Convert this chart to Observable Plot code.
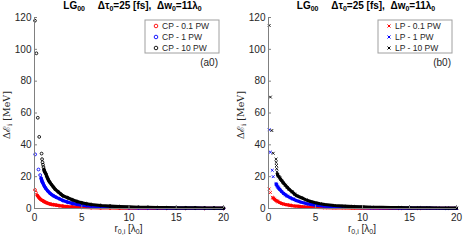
<!DOCTYPE html>
<html><head><meta charset="utf-8">
<script src="https://cdn.jsdelivr.net/npm/d3@7"></script>
<script src="https://cdn.jsdelivr.net/npm/@observablehq/plot@0.6"></script>
<style>
body{margin:0;background:#fff;}
#wrap{display:flex;width:463px;height:240px;overflow:hidden;}
svg{font-family:"Liberation Sans",Arial,sans-serif;}
</style></head><body><div id="wrap"></div>
<script>
const xTicks = [0, 5, 10, 15, 20];
const yTicks = [0, 20, 40, 60, 80, 100, 120];
const seriesColors = ["#ff0000", "#0000ff", "#000000"];
const cpLabels = ["CP - 0.1 PW", "CP - 1 PW", "CP - 10 PW"];
const lpLabels = ["LP - 0.1 PW", "LP - 1 PW", "LP - 10 PW"];
const panelTags = ["(a0)", "(b0)"];

// CP (circularly polarised) — isolated points and dense band, [r0, dE]
const cp01Iso = [[0.05, 11.7], [0.15, 10.0]];
const cp01Band = [[0.3, 8.2], [0.45, 7.0], [0.6, 6.0], [0.75, 5.3], [0.9, 4.8], [1.0, 4.4], [1.2, 3.8], [1.4, 3.3], [1.6, 2.9], [1.8, 2.6], [2.0, 2.4], [2.3, 2.1], [2.6, 1.8], [3.0, 1.5], [3.5, 1.2], [4, 1.0], [4.5, 0.85], [5, 0.7], [6, 0.5], [7, 0.4], [8, 0.3], [9, 0.25], [10, 0.2], [12, 0.14], [14, 0.1], [16, 0.08], [18, 0.06], [20, 0.05]];
const cp1Iso = [[0.07, 34.0], [0.42, 24.5], [0.6, 21.0]];
const cp1Band = [[0.7, 19.0], [0.75, 18.0], [0.8, 17.0], [0.85, 16.5], [0.9, 15.8], [1.0, 14.5], [1.1, 13.5], [1.2, 12.5], [1.4, 11.0], [1.6, 9.8], [1.8, 8.8], [2.0, 8.0], [2.3, 7.0], [2.6, 6.2], [3.0, 5.0], [3.5, 4.0], [4, 3.2], [4.5, 2.6], [5, 2.1], [5.5, 1.8], [6, 1.5], [7, 1.1], [8, 0.85], [9, 0.7], [10, 0.55], [11, 0.45], [12, 0.38], [13, 0.32], [14, 0.28], [15, 0.24], [16, 0.2], [17, 0.18], [18, 0.16], [19, 0.14], [20, 0.12]];
const cp10Iso = [[0.05, 118], [0.2, 97.5], [0.35, 57], [0.5, 45], [0.75, 34.5], [0.8, 31], [0.85, 29], [0.9, 27.5], [0.95, 26]];
const cp10Band = [[1.0, 24.5], [1.05, 23.5], [1.1, 22.8], [1.2, 21.8], [1.3, 20.2], [1.4, 18.8], [1.5, 17.6], [1.6, 16.6], [1.8, 15.0], [2.0, 13.5], [2.2, 12.0], [2.5, 10.5], [2.8, 9.0], [3.0, 8.0], [3.5, 6.8], [4, 5.5], [4.5, 4.4], [5, 3.6], [5.5, 3.0], [6, 2.5], [7, 1.9], [8, 1.5], [9, 1.2], [10, 1.0], [11, 0.8], [12, 0.7], [13, 0.6], [14, 0.5], [15, 0.45], [16, 0.4], [17, 0.35], [18, 0.3], [19, 0.28], [20, 0.25]];

// LP (linearly polarised)
const lp01Iso = [[0.07, 12.3], [0.2, 10.0], [0.4, 7.0]];
const lp01Band = [[0.5, 6.6], [0.65, 5.8], [0.8, 5.1], [0.9, 4.7], [1.0, 4.3], [1.2, 3.7], [1.4, 3.2], [1.6, 2.8], [1.8, 2.5], [2.0, 2.3], [2.3, 2.0], [2.6, 1.7], [3.0, 1.45], [3.5, 1.15], [4, 0.95], [4.5, 0.8], [5, 0.68], [6, 0.5], [7, 0.38], [8, 0.3], [9, 0.24], [10, 0.2], [12, 0.14], [14, 0.1], [16, 0.08], [18, 0.06], [20, 0.05]];
const lp1Iso = [[0.07, 49.5], [0.2, 35.4], [0.4, 24.0], [0.5, 20.0]];
const lp1Band = [[0.8, 15.5], [0.85, 15.0], [0.9, 14.4], [1.0, 13.5], [1.1, 12.7], [1.2, 12.0], [1.4, 10.6], [1.6, 9.5], [1.8, 8.6], [2.0, 7.8], [2.3, 6.8], [2.6, 6.0], [3.0, 4.9], [3.5, 3.9], [4, 3.1], [4.5, 2.6], [5, 2.1], [5.5, 1.8], [6, 1.5], [7, 1.1], [8, 0.85], [9, 0.7], [10, 0.55], [11, 0.45], [12, 0.38], [13, 0.32], [14, 0.28], [15, 0.24], [16, 0.2], [17, 0.18], [18, 0.16], [19, 0.14], [20, 0.12]];
const lp10Iso = [[0.07, 115], [0.2, 70], [0.35, 49], [0.5, 34.7], [0.8, 31], [0.82, 29], [0.85, 27], [0.87, 25], [0.9, 23]];
const lp10Band = [[0.95, 21.5], [1.0, 20.8], [1.1, 20.0], [1.2, 19.2], [1.3, 18.3], [1.4, 17.5], [1.5, 16.7], [1.6, 16.0], [1.8, 14.6], [2.0, 13.3], [2.2, 12.0], [2.5, 10.5], [2.8, 9.0], [3.0, 8.0], [3.5, 6.7], [4, 5.4], [4.5, 4.4], [5, 3.6], [5.5, 3.0], [6, 2.5], [7, 1.9], [8, 1.5], [9, 1.2], [10, 1.0], [11, 0.8], [12, 0.7], [13, 0.6], [14, 0.5], [15, 0.45], [16, 0.4], [17, 0.35], [18, 0.3], [19, 0.28], [20, 0.25]];

const cpSeries = [[cp01Iso, cp01Band], [cp1Iso, cp1Band], [cp10Iso, cp10Band]];
const lpSeries = [[lp01Iso, lp01Band], [lp1Iso, lp1Band], [lp10Iso, lp10Band]];

const axisColor = "#262626";

function panel({series, labels, tag, symbol, width, marginLeft, marginRight}) {
  const marks = [];
  series.forEach(([iso, band], i) => {
    marks.push(Plot.line(band, {x: d => d[0], y: d => d[1], stroke: seriesColors[i], strokeWidth: 3.2}));
    marks.push(Plot.dot(iso.concat(band), {x: d => d[0], y: d => d[1], stroke: seriesColors[i], symbol, r: 1.4, strokeWidth: 0.9}));
  });
  marks.push(Plot.ruleX([0], {stroke: "#808080"}));
  marks.push(Plot.ruleY([0], {stroke: "#808080"}));
  marks.push(Plot.axisY({ticks: yTicks, tickSize: 0, tickPadding: 3, fontSize: 10, color: axisColor, label: null}));
  marks.push(Plot.axisY({ticks: yTicks, tickSize: -3, tickFormat: () => "", stroke: "#808080", label: null}));
  marks.push(Plot.axisX({ticks: xTicks, tickSize: 0, tickPadding: 5, fontSize: 10, color: axisColor, label: null}));
  marks.push(Plot.axisX({ticks: xTicks, tickSize: -3, tickFormat: () => "", stroke: "#808080", label: null}));
  const svg = Plot.plot({
    width, height: 240, marginLeft, marginRight, marginTop: 17, marginBottom: 32,
    x: {domain: [0, 20]}, y: {domain: [0, 120]},
    marks
  });
  const s = d3.select(svg);
  const x0 = marginLeft, x1 = width - marginRight;
  // title
  const t = s.append("text").attr("x", (x0 + x1) / 2 + 4).attr("y", 9).attr("text-anchor", "middle")
    .attr("font-weight", "bold").attr("font-size", 10).attr("fill", "#000");
  const sub = (txt) => { t.append("tspan").attr("baseline-shift", "-30%").attr("font-size", 7).text(txt); };
  t.append("tspan").text("LG"); sub("00");
  t.append("tspan").text("\u2003\u00a0\u0394\u03c4"); sub("0");
  t.append("tspan").text("=25 [fs],\u00a0\u00a0\u0394w"); sub("0");
  t.append("tspan").text("=11\u03bb"); sub("0");
  // y label
  const yl = s.append("text").attr("transform", `translate(${x0 - 24},115) rotate(-90)`).attr("text-anchor", "middle")
    .attr("font-family", "'DejaVu Serif','Liberation Serif',serif").attr("font-size", 9.5).attr("fill", axisColor);
  yl.append("tspan").text("\u0394\u2130");
  yl.append("tspan").attr("baseline-shift", "-25%").attr("font-size", 7).text("i");
  yl.append("tspan").text(" [MeV]");
  // x label
  const xl = s.append("text").attr("x", (x0 + x1) / 2).attr("y", 232).attr("text-anchor", "middle")
    .attr("font-size", 10).attr("fill", axisColor);
  xl.append("tspan").text("r");
  xl.append("tspan").attr("baseline-shift", "-30%").attr("font-size", 7).text("0,i");
  xl.append("tspan").text(" [\u03bb");
  xl.append("tspan").attr("baseline-shift", "-30%").attr("font-size", 7).text("0");
  xl.append("tspan").text("]");
  // legend
  const lx = x1 - 78, ly = 20;
  s.append("rect").attr("x", lx).attr("y", ly).attr("width", 74).attr("height", 33)
    .attr("fill", "#fff").attr("stroke", "#a0a0a0").attr("stroke-width", 1);
  labels.forEach((lab, i) => {
    const cy = ly + 6 + i * 11;
    if (symbol === "circle") {
      s.append("circle").attr("cx", lx + 11).attr("cy", cy).attr("r", 1.8).attr("fill", "none").attr("stroke", seriesColors[i]).attr("stroke-width", 0.9);
    } else {
      s.append("path").attr("d", `M${lx + 9.5},${cy - 1.5}L${lx + 12.5},${cy + 1.5}M${lx + 9.5},${cy + 1.5}L${lx + 12.5},${cy - 1.5}`).attr("stroke", seriesColors[i]).attr("stroke-width", 1);
    }
    s.append("text").attr("x", lx + 17).attr("y", cy + 3).attr("text-anchor", "start").attr("font-size", 8.5).attr("fill", axisColor).text(lab);
  });
  s.append("text").attr("x", x1 - 5).attr("y", 66).attr("text-anchor", "end").attr("font-size", 10).attr("fill", axisColor).text(tag);
  return svg;
}

const wrap = document.getElementById("wrap");
wrap.appendChild(panel({series: cpSeries, labels: cpLabels, tag: panelTags[0], symbol: "circle", width: 232, marginLeft: 34, marginRight: 9}));
wrap.appendChild(panel({series: lpSeries, labels: lpLabels, tag: panelTags[1], symbol: "times", width: 231, marginLeft: 36, marginRight: 7}));
</script></body></html>
